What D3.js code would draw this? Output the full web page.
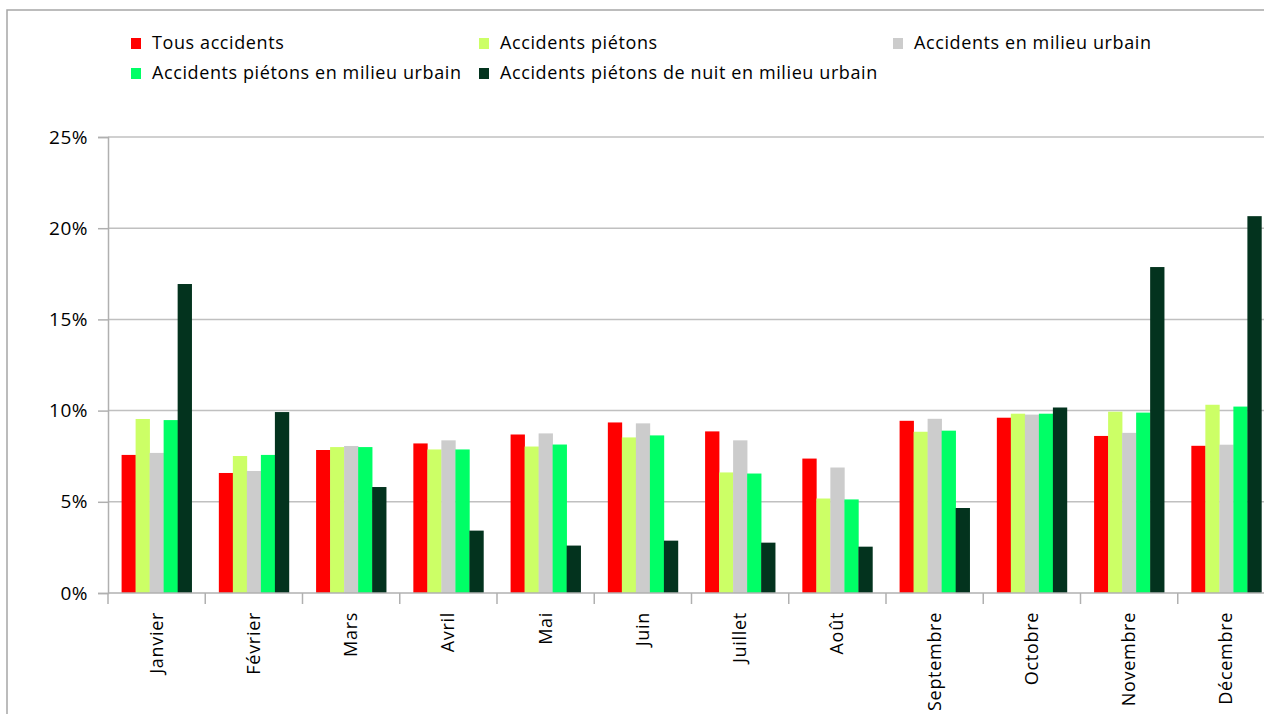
<!DOCTYPE html>
<html><head><meta charset="utf-8">
<script src="https://cdn.jsdelivr.net/npm/d3@7"></script>
<style>
html,body{margin:0;padding:0;background:#fff;overflow:hidden}
svg{display:block}
text{font-family:"Open Sans",Lato,sans-serif;fill:#000}
</style></head><body>
<svg id="c" width="1264" height="714"></svg>
<script>
const months = ["Janvier","Février","Mars","Avril","Mai","Juin","Juillet","Août","Septembre","Octobre","Novembre","Décembre"];
const seriesNames = ["Tous accidents","Accidents piétons","Accidents en milieu urbain","Accidents piétons en milieu urbain","Accidents piétons de nuit en milieu urbain"];
const seriesColors = ["#ff0000","#ccff66","#cccccc","#00ff66","#03331e"];
const tousAccidents      = [7.57, 6.58, 7.84, 8.20, 8.69, 9.35, 8.86, 7.37, 9.44, 9.61, 8.61, 8.07];
const pietons            = [9.54, 7.51, 8.00, 7.87, 8.03, 8.53, 6.61, 5.18, 8.84, 9.83, 9.94, 10.32];
const milieuUrbain       = [7.68, 6.69, 8.06, 8.37, 8.75, 9.30, 8.37, 6.88, 9.55, 9.78, 8.78, 8.13];
const pietonsUrbain      = [9.48, 7.57, 8.00, 7.87, 8.14, 8.64, 6.55, 5.13, 8.90, 9.83, 9.89, 10.22];
const pietonsNuitUrbain  = [16.94, 9.92, 5.81, 3.42, 2.60, 2.87, 2.76, 2.54, 4.66, 10.17, 17.87, 20.66];
const yTicks = [0, 5, 10, 15, 20, 25];

const values = [tousAccidents, pietons, milieuUrbain, pietonsUrbain, pietonsNuitUrbain];
const svg = d3.select("#c");

// outer frame
svg.append("rect").attr("x",7).attr("y",10).attr("width",1300).attr("height",800)
  .attr("fill","none").attr("stroke","#a6a6a6").attr("stroke-width",1.5);

const x0 = d3.scaleBand().domain(months).range([108, 1275]).padding(0);
const x1 = d3.scaleBand().domain(d3.range(5)).range([0, x0.bandwidth()]).paddingInner(0).paddingOuter(0.97);
const y = d3.scaleLinear().domain([0, 25]).range([593, 137]);

// gridlines
svg.append("g").selectAll("line").data(yTicks.filter(d=>d>0)).join("line")
  .attr("x1",108).attr("x2",1264).attr("y1",d=>y(d)).attr("y2",d=>y(d))
  .attr("stroke","#c0c0c0").attr("stroke-width",1.5);

// bars
const g = svg.append("g");
months.forEach((m,i)=>{
  values.forEach((arr,s)=>{
    g.append("rect")
      .attr("x", x0(m)+x1(s))
      .attr("width", x1.bandwidth()+0.3)
      .attr("y", y(arr[i]))
      .attr("height", y(0)-y(arr[i]))
      .attr("fill", seriesColors[s]);
  });
});

// y axis
const yAxis = d3.axisLeft(y).tickValues(yTicks).tickSize(10).tickPadding(10).tickFormat(d=>d+"%");
const ya = svg.append("g").attr("transform","translate(108,0)").call(yAxis);
ya.select(".domain").attr("stroke","#b0b0b0").attr("stroke-width",1.5);
ya.selectAll(".tick line").attr("stroke","#b0b0b0").attr("stroke-width",1.5);
ya.selectAll(".tick text").style("font-size","19px").style("letter-spacing","0.5px")
  .style("font-family","'Open Sans',sans-serif").attr("fill","#000");

// x axis
const xa = svg.append("g").attr("transform","translate(0,593)");
xa.append("line").attr("x1",108).attr("x2",1264).attr("y1",0).attr("y2",0).attr("stroke","#b0b0b0").attr("stroke-width",1.5);
const bounds = months.map(m=>x0(m)).concat([x0(months[months.length-1])+x0.bandwidth()]);
xa.selectAll("line.tk").data(bounds).join("line").attr("class","tk")
  .attr("x1",d=>d).attr("x2",d=>d).attr("y1",0).attr("y2",11)
  .attr("stroke","#b0b0b0").attr("stroke-width",1.5);
xa.selectAll("text.ml").data(months).join("text").attr("class","ml")
  .attr("transform",d=>`translate(${x0(d)+x0.bandwidth()/2+6},19) rotate(-90)`)
  .attr("text-anchor","end")
  .style("font-size","18px").style("letter-spacing","0.7px")
  .text(d=>d);

// legend
const legPos = [[131,43],[479,43],[893,43],[131,73],[479,73]];
const lg = svg.append("g");
seriesNames.forEach((n,i)=>{
  const [lx,ly] = legPos[i];
  lg.append("rect").attr("x",lx).attr("y",ly-5).attr("width",10).attr("height",11).attr("fill",seriesColors[i]);
  lg.append("text").attr("x",lx+21).attr("y",ly+6).style("font-size","18px").style("letter-spacing","0.6px").text(n);
});
</script>
</body></html>
